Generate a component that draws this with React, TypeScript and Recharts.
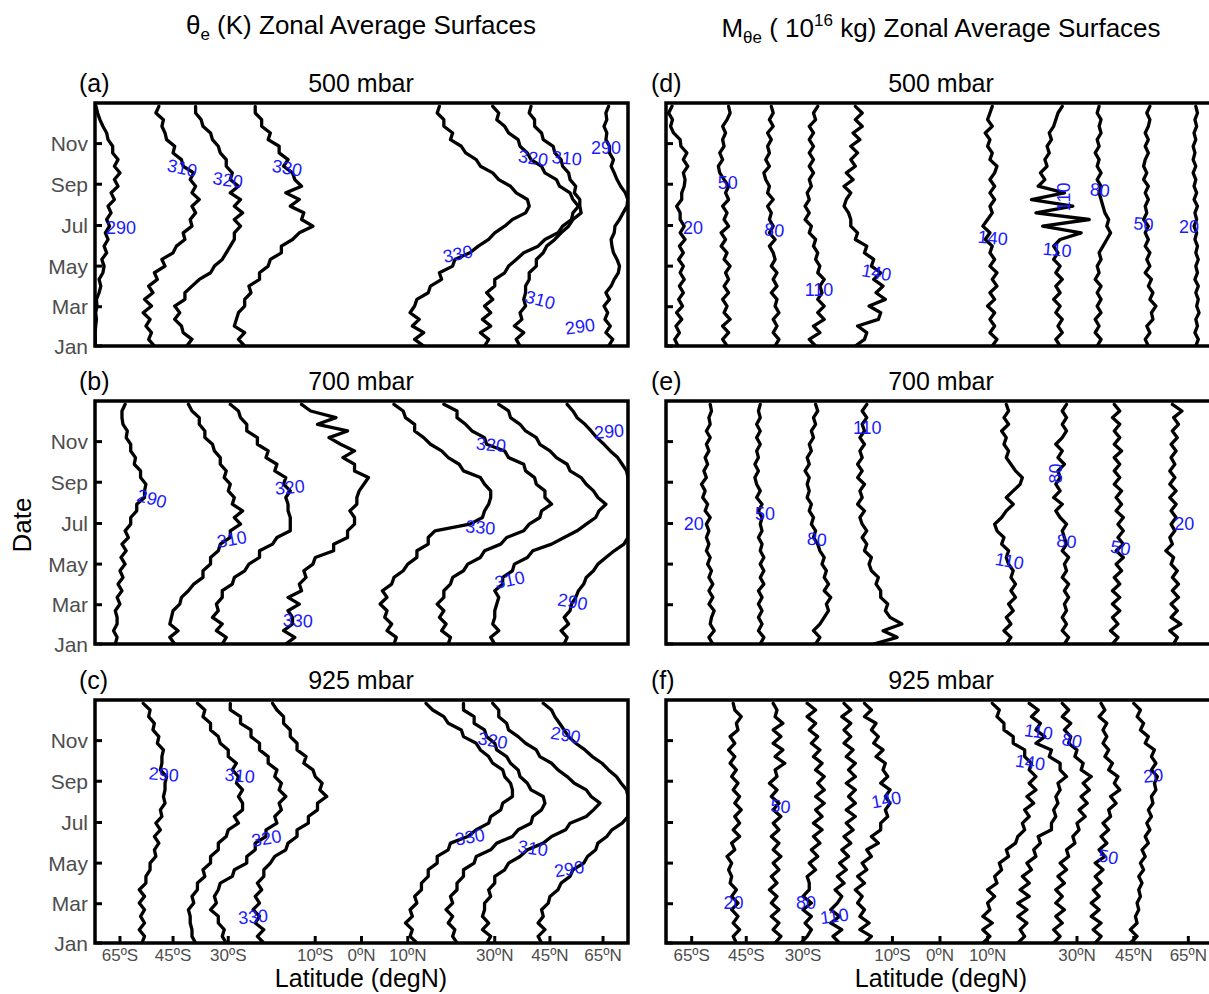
import React from "react";
import { ScatterChart, Scatter, XAxis, YAxis, ReferenceArea } from "recharts";

const FONT = "'Liberation Sans', Arial, Helvetica, sans-serif";

// day of year sampled every 10 days
const days = [0, 10, 20, 30, 40, 50, 60, 70, 80, 90, 100, 110, 120, 130, 140, 150, 160, 170, 180, 190, 200, 210, 220, 230, 240, 250, 260, 270, 280, 290, 300, 310, 320, 330, 340, 350, 360];

const monthTicks = [0, 59, 120, 181, 243, 304];
const monthNames = ["Jan", "Mar", "May", "Jul", "Sep", "Nov"];
const latTicks = [-65, -45, -30, -10, 0, 10, 30, 45, 65];
const latTickLabels = ["65ºS", "45ºS", "30ºS", "10ºS", "0ºN", "10ºN", "30ºN", "45ºN", "65ºN"];

// contour latitudes (degN), one value per entry of `days`
// (a) theta_e 500 mbar
const A_290S = [-88, -87, -88, -86, -84, -86, -83, -84, -80, -78, -80, -76, -75, -77, -73, -75, -72, -74, -71, -73, -70, -72, -68, -70, -66, -68, -65, -68, -66, -69, -69, -72, -73, -76, -79, -82, -85];
const A_310S = [-51, -53, -52, -54, -52.5, -55, -52, -54.5, -51.5, -53, -50, -51, -47.5, -48.5, -45, -44, -41.5, -42, -39.5, -40, -38.5, -39.5, -37.5, -39.5, -38.5, -40, -39, -42, -42.5, -45, -44.5, -47, -47.5, -48.5, -48, -50.5, -49.5];
const A_320S = [-41, -39.5, -42, -42.5, -44.5, -43, -44.5, -41.5, -41.5, -39.5, -37.5, -34.5, -33.5, -31.5, -30.5, -29.5, -28.5, -28.5, -27, -28.5, -26.5, -28.5, -27, -29.5, -27.5, -29.5, -29, -30.5, -30.5, -32, -32.5, -34, -34.5, -36.5, -37, -38.5, -38.5];
const A_330S = [-26, -27.5, -26, -28.5, -28, -27.5, -26, -26, -24.5, -25, -22.5, -22.5, -20.5, -20, -17.5, -17.5, -15, -13.5, -10.5, -13, -12.5, -15.5, -13.5, -16.5, -13, -14.5, -15, -17, -16, -18, -18, -20.5, -20, -22, -22, -23.5, -23.5];
const A_330N = [13.5, 11.5, 13.5, 11, 12.5, 10.5, 11.5, 12, 14.5, 15, 17.5, 17, 20, 20.5, 24, 26, 28.5, 30, 32.5, 34.5, 38, 39, 38.5, 35.5, 34, 31, 29.5, 26.5, 25.5, 23, 22, 19.5, 20, 18, 18, 16.5, 17];
const A_320N = [27.5, 28.5, 26.5, 29, 27, 29, 27.5, 29.5, 28, 30, 30, 32.5, 33.5, 35.5, 37.5, 41.5, 43.5, 47.5, 49, 52, 52.5, 54.5, 52.5, 51.5, 48, 47, 43.5, 42.5, 39.5, 38.5, 36.5, 36, 33.5, 32.5, 30.5, 31, 29.5];
const A_310N = [36.5, 35.5, 37.5, 35, 37, 36.5, 38, 37.5, 38, 38, 39, 39, 41, 41, 43, 44, 46.5, 48.5, 51, 52.5, 55.5, 55, 55, 53, 53.5, 51.5, 51, 49, 48.5, 46.5, 46, 43, 42.5, 40.5, 40.5, 39, 39.5];
const A_290N = [68, 70.5, 66.5, 69, 66, 67.5, 65.5, 68.5, 66.5, 69.5, 71.5, 74.5, 75.5, 73.5, 71, 70, 69.5, 71.5, 72, 75.5, 79, 85, 88, 82, 76.5, 73.5, 71.5, 69.5, 71, 68.5, 68.5, 66.5, 67, 65.5, 67, 66.5, 68];

// (b) theta_e 700 mbar
const B_290S = [-67.5, -66.5, -68.5, -66.5, -66.5, -67.5, -65, -66.5, -64, -66, -63.5, -65, -62.5, -64.5, -62, -64, -61, -62.5, -60, -60, -57.5, -57.5, -54.5, -54.5, -54, -56, -56, -58.5, -58, -60, -60, -62, -61.5, -63.5, -64, -64, -62.5];
const B_310S = [-44.5, -46, -43.5, -46, -45.5, -45, -43, -42.5, -40.5, -39, -36.5, -36.5, -34.5, -34.5, -32.5, -32, -29.5, -29.5, -27, -28.5, -26.5, -29, -28.5, -30, -29.5, -31, -30.5, -32, -32, -33.5, -34, -36, -36, -37.5, -37.5, -39.5, -40.5];
const B_320S = [-31.5, -30.5, -33, -31.5, -34, -32.5, -33, -31.5, -31.5, -29, -28.5, -26, -25, -22.5, -22.5, -19.5, -18.5, -15.5, -15.5, -15.5, -16, -16, -16.5, -15.5, -17, -16.5, -19, -18.5, -21, -20.5, -23, -23, -25.5, -25.5, -27, -27.5, -29.5];
const B_330S = [-16.5, -14.5, -17, -15, -15, -16, -13.5, -16, -13, -13.5, -12, -12.5, -10.5, -10, -6, -6, -3, -3, -1.5, -1.5, -2.5, -1, -1, -0.5, 0.5, 1.5, -1.5, -1.5, -4, -1.5, -4.5, -7, -3, -9.5, -5.5, -11, -13];
const B_330N = [7, 7.5, 5.5, 6.5, 5, 5.5, 4, 5.5, 4.5, 6.5, 7, 9, 10, 12, 12, 14.5, 14.5, 16, 24, 27, 27.5, 28.5, 29, 29, 27.5, 26.5, 22.5, 21.5, 19, 17.5, 15, 13.5, 11.5, 11.5, 9.5, 9, 7];
const B_320N = [19, 19.5, 17.5, 18.5, 17, 18, 16.5, 18, 18, 19.5, 20, 22.5, 23.5, 26.5, 27.5, 31.5, 33, 37.5, 39, 42, 42.5, 45.5, 43.5, 43.5, 41, 40.5, 38, 37.5, 33.5, 32.5, 28, 27.5, 24.5, 23, 21, 21, 18];
const B_310N = [30, 29, 31, 29.5, 30, 30, 30.5, 31, 30, 32, 32, 34.5, 35, 38.5, 40, 45.5, 49.5, 54, 57.5, 61.5, 63, 66.5, 62.5, 60.5, 57.5, 55.5, 51.5, 50.5, 47, 45, 42, 41, 38, 36.5, 34, 33.5, 31];
const B_290N = [49.5, 50.5, 48.5, 51, 49.5, 51.5, 52, 53.5, 54.5, 56.5, 57.5, 60.5, 62.5, 66.5, 71.5, 80, 90, 90, 90, 90, 90, 90, 90, 90, 90, 90, 84, 78, 74, 69, 65.5, 62, 59.5, 57, 54, 52.5, 50.5];

// (c) theta_e 925 mbar
const C_290S = [-55.5, -54.5, -56.5, -54.5, -56, -54.5, -56.5, -54.5, -56.5, -54, -54, -52.5, -52.5, -50.5, -51, -49.5, -51, -49, -50.5, -48.5, -49, -47.5, -48, -47.5, -47.5, -47, -49, -48.5, -48.5, -48, -50, -49.5, -51.5, -51, -53, -52.5, -55];
const C_310S = [-38.5, -39.5, -39.5, -40, -40, -40.5, -39, -39.5, -38, -38, -36, -36.5, -34.5, -34.5, -32.5, -32.5, -30.5, -30, -27.5, -28.5, -26.5, -26.5, -27.5, -26.5, -28, -27.5, -29, -28, -30, -30, -32, -32.5, -34.5, -34.5, -36.5, -36, -38];
const C_320S = [-30.5, -31.5, -31, -32.5, -32.5, -34.5, -33, -33.5, -32.5, -32, -29, -28.5, -25.5, -25.5, -23.5, -23.5, -21, -21, -18.5, -19, -17.5, -18, -16.5, -18, -17.5, -19, -18.5, -20.5, -20.5, -22.5, -22.5, -24.5, -24.5, -27, -27, -29.5, -29.5];
const C_330S = [-21.5, -23, -21.5, -23.5, -22.5, -24, -22.5, -23.5, -22, -23, -21.5, -21.5, -20, -19, -16.5, -16, -14, -14, -11.5, -11.5, -9.5, -9.5, -7.5, -9, -8.5, -10, -10.5, -12.5, -12, -14, -14, -15.5, -15.5, -17, -17, -18.5, -19.5];
const C_330N = [12, 10.5, 11, 9.5, 11, 10.5, 12, 11.5, 13, 13, 14.5, 14.5, 16.5, 16.5, 19, 19.5, 23.5, 25.5, 28.5, 29, 31.5, 32, 34.5, 34.5, 34, 32.5, 32, 29.5, 28.5, 26.5, 25.5, 22.5, 22, 19, 18, 15.5, 14];
const C_320N = [21, 20, 20.5, 19, 20, 18.5, 20, 19.5, 21, 21, 22.5, 22.5, 25, 25.5, 29, 30.5, 34.5, 36, 39.5, 40, 42.5, 43.5, 43, 39.5, 38.5, 36.5, 36, 34, 33, 30.5, 30, 28, 27.5, 25, 25, 22.5, 22.5];
const C_310N = [28, 29, 27, 28.5, 27, 27.5, 27.5, 29, 28.5, 30, 30, 32.5, 33.5, 36.5, 38.5, 43, 45.5, 50, 51.5, 57.5, 60.5, 63.5, 59.5, 57.5, 53, 50.5, 47.5, 45.5, 42, 41, 38, 36, 33.5, 33, 31, 31, 29.5];
const C_290N = [42.5, 41.5, 43.5, 41.5, 43, 42.5, 44.5, 45, 47.5, 48.5, 51.5, 52.5, 56.5, 58, 61.5, 62.5, 67, 70, 78, 90, 90, 90, 90, 84, 77, 73, 68, 64.5, 60, 57, 53.5, 51, 49.5, 48, 46.5, 45.5, 43];

// (d) M_theta_e 500 mbar
const D_20S = [-73, -75.5, -72, -74.5, -70.5, -74, -70, -72.5, -69.5, -72, -69, -71.5, -69.5, -72.5, -69.5, -72, -68.5, -71.5, -69, -71.5, -71.5, -74, -70.5, -70.5, -69, -68.5, -69.5, -67, -69.5, -67.5, -71, -71.5, -76.5, -79.5, -77.5, -82, -78];
const D_50S = [-51, -52.5, -50.5, -52.5, -50, -52, -51, -52.5, -50.5, -52, -50.5, -51.5, -50, -52, -51, -53, -51.5, -53, -50.5, -52, -51, -52.5, -50.5, -51.5, -50.5, -52, -53.5, -54, -52.5, -53.5, -52, -52.5, -51.5, -52.5, -51, -50, -50.5];
const D_80S = [-37, -36, -37.5, -36.5, -37.5, -36, -37, -36.5, -38, -36.5, -37.5, -36.5, -38, -37, -37.5, -38.5, -37, -38.5, -37.5, -38.5, -38, -39, -37.5, -39, -38.5, -39.5, -40, -38.5, -39.5, -38.5, -39, -38, -39, -37.5, -38.5, -37.5, -38];
const D_110S = [-27, -28.5, -26, -27.5, -25, -26.5, -25, -26.5, -25.5, -26, -25, -26.5, -26, -27, -26.5, -27.5, -27, -28.5, -28, -29.5, -28.5, -29.5, -28.5, -29, -28, -28.5, -27.5, -28.5, -27.5, -28.5, -27.5, -28.5, -27.5, -28.5, -27, -27.5, -26.5];
const D_140S = [-18, -16, -15.5, -17.5, -13, -12.5, -15, -11.5, -13.5, -12, -14, -12.5, -14.5, -14, -16, -15.5, -18, -17.5, -19, -19, -19.5, -20.5, -20, -19, -20.5, -18.5, -20, -18, -19, -17.5, -19, -17, -18.5, -16.5, -18, -16.5, -18];
const D_140N = [11, 12, 10.5, 11.5, 10.5, 11.5, 10, 11.5, 10.5, 12, 11, 12, 10.5, 11.5, 10.5, 11, 9.5, 10.5, 9, 10, 11, 10.5, 11.5, 10.5, 11.5, 10.5, 11.5, 12, 10.5, 11, 10, 10.5, 9.5, 11, 10, 10.5, 11];
const D_110N = [26, 25, 26.5, 25.5, 26.5, 25, 26, 24.5, 26, 25, 26.5, 25, 26, 24.5, 25.5, 24.5, 26, 31, 22, 33, 20.5, 29, 19.5, 27, 21, 22.5, 21.5, 23, 22.5, 23.5, 23, 24, 23.5, 24.5, 25, 25.5, 26.5];
const D_80N = [35, 36, 34.5, 35.5, 34.5, 36, 35, 36, 35, 36, 34.5, 35.5, 35, 36, 35.5, 36.5, 37.5, 38.5, 37.5, 38, 37, 36.5, 36, 35.5, 36, 35, 36, 35, 35.5, 34.5, 35.5, 35, 36, 35.5, 36, 35, 35.5];
const D_50N = [49.5, 48.5, 50, 49, 51, 50.5, 52, 50, 51, 49.5, 50.5, 48.5, 50, 49, 50, 48.5, 49.5, 48.5, 49.5, 48, 49, 48.5, 49.5, 48.5, 49.5, 48, 49, 48, 48.5, 49.5, 48.5, 49.5, 48.5, 49.5, 50, 49, 50];
const D_20N = [69, 70.5, 68.5, 70, 69, 71, 69.5, 70.5, 69, 70.5, 68.5, 70, 69, 70.5, 69, 70, 68.5, 69.5, 68, 69.5, 68.5, 70, 68, 69.5, 68, 69, 67.5, 69, 67.5, 68.5, 67.5, 69, 68, 69.5, 68.5, 70, 69];

// (e) M_theta_e 700 mbar
const E_20S = [-56, -57.5, -55.5, -57, -56.5, -55.5, -57.5, -56, -57.5, -56, -57.5, -56.5, -58, -57, -58.5, -57.5, -58.5, -57.5, -58.5, -57, -59, -58, -60, -59, -60.5, -58.5, -59.5, -58, -59, -57.5, -58.5, -57, -58.5, -57, -57.5, -56.5, -57];
const E_50S = [-41, -40, -41.5, -40.5, -41.5, -40.5, -41.5, -40.5, -41.5, -40, -41, -40, -41, -40, -41, -40.5, -41.5, -40.5, -41, -40.5, -41.5, -40.5, -42, -41, -42, -42.5, -41.5, -42.5, -41.5, -42, -41, -42, -41, -42, -41, -41.5, -41];
const E_80S = [-27, -26, -27.5, -26, -25, -24, -24.5, -23.5, -25, -24, -25, -24.5, -25.5, -25, -26, -26.5, -27.5, -27, -28, -27.5, -28.5, -28, -29, -28.5, -29, -28.5, -29.5, -28.5, -29, -28, -28.5, -27.5, -28, -27, -27.5, -26.5, -27];
const E_110S = [-14, -9, -12, -8, -10.5, -11.5, -11, -12.5, -12.5, -13.5, -13, -14.5, -15, -14.5, -16, -15.5, -16.5, -15.5, -16.5, -17, -16, -17.5, -16.5, -17, -16, -17.5, -16.5, -17.5, -16.5, -17, -16, -17, -16, -16.5, -15.5, -16.5, -15.5];
const E_110N = [14, 15, 13.5, 15, 14, 15.5, 14.5, 16, 15, 16, 15, 15.5, 14.5, 14, 14.5, 13, 13.5, 12, 11.5, 13, 14, 15.5, 14, 15.5, 17, 17.5, 16, 15, 14, 14.5, 13.5, 14, 13, 14.5, 13.5, 14.5, 14];
const E_80N = [27, 28, 26.5, 27.5, 26.5, 27.5, 27, 28, 27, 28, 26.5, 27.5, 27, 28, 26.5, 27.5, 27, 26.5, 27.5, 26, 25, 26.5, 24.5, 26, 25, 26, 25.5, 27, 25.5, 26.5, 25, 26.5, 27.5, 26.5, 27.5, 26.5, 27.5];
const E_50N = [39, 40.5, 38.5, 40.5, 39, 41, 39, 41, 39, 41, 39.5, 41.5, 40, 42, 40, 42, 40.5, 42, 40.5, 42, 40, 41.5, 40, 41.5, 39.5, 41, 39.5, 41, 39.5, 41.5, 39.5, 41, 39.5, 41, 39, 41, 39.5];
const E_20N = [58.5, 60, 57, 61.5, 57.5, 60, 57.5, 60.5, 58, 60.5, 58, 60, 57.5, 58.5, 55.5, 58, 57, 59, 57.5, 59.5, 57.5, 59.5, 57, 59.5, 57, 59, 57, 59, 57.5, 59.5, 57.5, 60, 58, 60.5, 58.5, 62, 58];

// (f) M_theta_e 925 mbar
const F_20S = [-48, -49, -47, -49, -47.5, -49.5, -47.5, -49.5, -48, -50, -49.5, -50.5, -49.5, -51, -48.5, -49.5, -47, -49, -47, -48.5, -46.5, -48.5, -47, -49, -47.5, -49.5, -48, -50, -48.5, -50.5, -48.5, -50, -47.5, -48, -46.5, -48.5, -49];
const F_50S = [-37, -35.5, -37.5, -36, -38, -36, -38, -36.5, -38.5, -36.5, -38, -36, -37.5, -35.5, -37.5, -36, -38, -36, -37.5, -35.5, -37.5, -36, -38, -36.5, -38.5, -36.5, -37, -34.5, -37, -35, -37.5, -35.5, -37.5, -35, -37, -36.5, -37.5];
const F_80S = [-30.5, -29, -28, -29.5, -28, -30, -28, -30, -28.5, -28.5, -29, -27, -28.5, -26.5, -28, -26, -27.5, -25.5, -27.5, -25.5, -27, -25, -27, -25, -26.5, -25, -27, -25.5, -27.5, -26, -28, -26.5, -28.5, -27, -29, -27, -29];
const F_110S = [-21.5, -23, -21, -23.5, -21.5, -23.5, -22, -21, -22.5, -20.5, -22, -20, -21.5, -19.5, -21, -19, -20.5, -18.5, -20, -18, -20, -18, -19.5, -18, -20, -18, -19.5, -18, -20, -18.5, -20.5, -19, -20.5, -19, -21, -19, -20.5];
const F_140S = [-16, -14.5, -17, -15, -17, -16, -17.5, -16.5, -18, -16, -17.5, -15.5, -16.5, -14.5, -15.5, -13, -14.5, -12.5, -12.5, -11, -11.5, -10.5, -11.5, -10.5, -12.5, -11, -12, -11.5, -13.5, -12, -14, -13, -14.5, -13.5, -16, -14.5, -16];
const F_140N = [9, 10.5, 9, 11, 9, 10.5, 10, 11.5, 10, 12, 11.5, 13, 12.5, 14.5, 14, 16, 16.5, 18, 17.5, 19, 18, 20, 18.5, 20.5, 19, 20.5, 19, 19.5, 18, 18, 15.5, 15.5, 13.5, 13.5, 12, 12.5, 11];
const F_110N = [16.5, 18, 17, 18.5, 16.5, 18.5, 16.5, 19, 17, 19, 17.5, 19.5, 18.5, 20.5, 20, 21.5, 21, 24, 24, 25, 24.5, 25.5, 25, 26, 25.5, 27.5, 26, 26, 23.5, 24, 20.5, 22.5, 20.5, 21.5, 19.5, 21, 19];
const F_80N = [24.5, 26, 24.5, 26.5, 25, 27, 25, 26.5, 25, 27, 25.5, 27.5, 26, 28, 27.5, 29.5, 29, 30.5, 30, 32, 30.5, 32.5, 31, 33, 31.5, 33.5, 31, 31.5, 29.5, 30, 28, 28.5, 27, 28.5, 26.5, 28, 26.5];
const F_50N = [34.5, 36, 34, 36, 33.5, 35.5, 33.5, 35.5, 34, 36, 34.5, 36.5, 34.5, 37, 35.5, 37.5, 36, 38, 36.5, 38.5, 38, 40, 38.5, 41, 39.5, 40.5, 38, 39, 37, 38, 36.5, 37.5, 36.5, 37.5, 35.5, 37, 36];
const F_20N = [44, 46, 44, 46, 45.5, 46.5, 46, 47, 46.5, 47.5, 46.5, 48, 47, 48.5, 47.5, 49.5, 48.5, 50, 49, 50.5, 49.5, 51, 50.5, 52, 51.5, 52.5, 50.5, 52, 50.5, 51.5, 48.5, 49.5, 47, 48, 46, 47, 45];

// contour labels: latitude, day, text, rotation
const A_LABELS = [
  { lat: -64.5, day: 177, text: "290", rot: 0 },
  { lat: -42.3, day: 267, text: "310", rot: 12 },
  { lat: -30.1, day: 249, text: "320", rot: 8 },
  { lat: -16.2, day: 267, text: "330", rot: 10 },
  { lat: 40.1, day: 282, text: "320", rot: 8 },
  { lat: 50.4, day: 282, text: "310", rot: 5 },
  { lat: 66.6, day: 297, text: "290", rot: 0 },
  { lat: 21.2, day: 138, text: "330", rot: -12 },
  { lat: 42.1, day: 69, text: "310", rot: 15 },
  { lat: 55.1, day: 29, text: "290", rot: -8 },
];
const B_LABELS = [
  { lat: -51.9, day: 218, text: "290", rot: 15 },
  { lat: -29.1, day: 157, text: "310", rot: -10 },
  { lat: -15.6, day: 235, text: "320", rot: -5 },
  { lat: -13.8, day: 35, text: "330", rot: 3 },
  { lat: 29.1, day: 299, text: "320", rot: 5 },
  { lat: 26.5, day: 175, text: "330", rot: 5 },
  { lat: 33.8, day: 96, text: "310", rot: -12 },
  { lat: 68.3, day: 319, text: "290", rot: -5 },
  { lat: 52.4, day: 63, text: "290", rot: 10 },
];
const C_LABELS = [
  { lat: -47.9, day: 253, text: "290", rot: 5 },
  { lat: -27.2, day: 251, text: "310", rot: 5 },
  { lat: -20.9, day: 157, text: "320", rot: -10 },
  { lat: -24, day: 39, text: "330", rot: -5 },
  { lat: 29.5, day: 304, text: "320", rot: 10 },
  { lat: 50, day: 312, text: "290", rot: 10 },
  { lat: 24, day: 159, text: "330", rot: -10 },
  { lat: 40, day: 142, text: "310", rot: 8 },
  { lat: 51.2, day: 111, text: "290", rot: -10 },
];
const D_LABELS = [
  { lat: -64.4, day: 177, text: "20", rot: 0 },
  { lat: -50.8, day: 245, text: "50", rot: 0 },
  { lat: -37.2, day: 174, text: "80", rot: 5 },
  { lat: -26.2, day: 84, text: "110", rot: 0 },
  { lat: -13.4, day: 110, text: "140", rot: 10 },
  { lat: 11.1, day: 162, text: "140", rot: 5 },
  { lat: 25.3, day: 144, text: "110", rot: 5 },
  { lat: 26.9, day: 224, text: "110", rot: -90 },
  { lat: 35.7, day: 234, text: "80", rot: 5 },
  { lat: 48, day: 183, text: "50", rot: 5 },
  { lat: 65.4, day: 179, text: "20", rot: 0 },
];
const E_LABELS = [
  { lat: -64, day: 180, text: "20", rot: 0 },
  { lat: -39.7, day: 195, text: "50", rot: 0 },
  { lat: -26.7, day: 157, text: "80", rot: 5 },
  { lat: -15.4, day: 324, text: "110", rot: 0 },
  { lat: 14.7, day: 124, text: "110", rot: 10 },
  { lat: 25.1, day: 256, text: "80", rot: -90 },
  { lat: 27.5, day: 154, text: "80", rot: 5 },
  { lat: 41.2, day: 144, text: "50", rot: 10 },
  { lat: 63.1, day: 180, text: "20", rot: 0 },
];
const F_LABELS = [
  { lat: -48.9, day: 60, text: "20", rot: 0 },
  { lat: -35.6, day: 205, text: "50", rot: 5 },
  { lat: -29.3, day: 60, text: "80", rot: 0 },
  { lat: -22.7, day: 40, text: "110", rot: -8 },
  { lat: -11.3, day: 215, text: "140", rot: -10 },
  { lat: 21.1, day: 317, text: "110", rot: 8 },
  { lat: 19.2, day: 271, text: "140", rot: 8 },
  { lat: 28.8, day: 304, text: "80", rot: 10 },
  { lat: 37.9, day: 129, text: "50", rot: 10 },
  { lat: 51.1, day: 251, text: "20", rot: -5 },
];

const PANELS = [
  { tag: "(a)", level: "500 mbar", col: 0, row: 0, lines: [A_290S, A_310S, A_320S, A_330S, A_330N, A_320N, A_310N, A_290N], labels: A_LABELS },
  { tag: "(b)", level: "700 mbar", col: 0, row: 1, lines: [B_290S, B_310S, B_320S, B_330S, B_330N, B_320N, B_310N, B_290N], labels: B_LABELS },
  { tag: "(c)", level: "925 mbar", col: 0, row: 2, lines: [C_290S, C_310S, C_320S, C_330S, C_330N, C_320N, C_310N, C_290N], labels: C_LABELS },
  { tag: "(d)", level: "500 mbar", col: 1, row: 0, lines: [D_20S, D_50S, D_80S, D_110S, D_140S, D_140N, D_110N, D_80N, D_50N, D_20N], labels: D_LABELS },
  { tag: "(e)", level: "700 mbar", col: 1, row: 1, lines: [E_20S, E_50S, E_80S, E_110S, E_110N, E_80N, E_50N, E_20N], labels: E_LABELS },
  { tag: "(f)", level: "925 mbar", col: 1, row: 2, lines: [F_20S, F_50S, F_80S, F_110S, F_140S, F_140N, F_110N, F_80N, F_50N, F_20N], labels: F_LABELS },
];

// layout
const PLOT_H = 243;
const ROW_TOP = [103, 401, 700];
const COLS = [
  { x: 95, w: 533, mid: 361, tagX: 79 },
  { x: 666, w: 548, mid: 941, tagX: 651 },
];
const Y_W = 50;
const X_H = 34;
const PAD = 4;
const TICK_GRAY = "#4d4d4d";

const toX = (lat: number) => Math.sin((lat * Math.PI) / 180);
const xTickValues = latTicks.map(toX);

const buildLine = (lats: number[]) => days.map((d, i) => ({ x: toX(lats[i]), y: d })).filter((p) => !Number.isNaN(p.x));

const renderXTick = (props: any) => {
  const { x, y, index } = props;
  return (
    <g>
      <line x1={x} y1={y} x2={x} y2={y - 7} stroke="#000" strokeWidth={3} />
      <text x={x} y={y + 12} textAnchor="middle" dominantBaseline="central" fontSize={17} fill={TICK_GRAY} fontFamily={FONT}>
        {latTickLabels[index]}
      </text>
    </g>
  );
};

const makeYTick = (withLabel: boolean) => (props: any) => {
  const { x, y, index } = props;
  return (
    <g>
      <line x1={x} y1={y} x2={x + 7} y2={y} stroke="#000" strokeWidth={3} />
      {withLabel && (
        <text x={x - 7} y={y} textAnchor="end" dominantBaseline="central" fontSize={21} fill={TICK_GRAY} fontFamily={FONT}>
          {monthNames[index]}
        </text>
      )}
    </g>
  );
};

const renderLabel = (props: any) => {
  const { cx, cy } = props;
  const p = props.payload ?? props;
  if (cx == null || cy == null) return <g />;
  return (
    <text
      x={cx}
      y={cy}
      textAnchor="middle"
      dominantBaseline="central"
      fontSize={18}
      fill="#1a1aff"
      fontFamily={FONT}
      transform={`rotate(${p.rot} ${cx} ${cy})`}
    >
      {p.text}
    </text>
  );
};

const noDot = () => <g />;

function Panel({ panel }: { panel: (typeof PANELS)[number] }) {
  const col = COLS[panel.col];
  const top = ROW_TOP[panel.row];
  const showX = panel.row === 2;
  const labelData = panel.labels.map((l) => ({ x: toX(l.lat), y: l.day, text: l.text, rot: l.rot }));

  return (
    <>
      <div style={{ position: "absolute", left: col.tagX, top: top - 35, fontSize: 25, lineHeight: "30px" }}>{panel.tag}</div>
      <div style={{ position: "absolute", left: col.mid - 100, width: 200, top: top - 35, fontSize: 25, lineHeight: "30px", textAlign: "center" }}>
        {panel.level}
      </div>
      <div style={{ position: "absolute", left: col.x - Y_W, top: top - PAD }}>
        <ScatterChart width={Y_W + col.w + PAD} height={PAD + PLOT_H + X_H} margin={{ top: PAD, right: PAD, bottom: 0, left: 0 }}>
          <XAxis
            type="number"
            dataKey="x"
            domain={[-1, 1]}
            allowDataOverflow
            ticks={xTickValues}
            interval={0}
            tickSize={0}
            tickMargin={0}
            axisLine={false}
            tickLine={false}
            height={X_H}
            tick={showX ? renderXTick : false}
          />
          <YAxis
            type="number"
            dataKey="y"
            domain={[0, 365]}
            allowDataOverflow
            ticks={monthTicks}
            interval={0}
            tickSize={0}
            tickMargin={0}
            axisLine={false}
            tickLine={false}
            width={Y_W}
            tick={makeYTick(panel.col === 0)}
          />
          {panel.lines.map((lats, i) => (
            <Scatter
              key={i}
              data={buildLine(lats)}
              line={{ stroke: "#000", strokeWidth: 3.3, strokeLinejoin: "round", strokeLinecap: "round" }}
              shape={noDot}
              isAnimationActive={false}
            />
          ))}
          <ReferenceArea x1={-1} x2={1} y1={0} y2={365} fill="none" fillOpacity={0} stroke="#000" strokeWidth={3.5} />
          <Scatter data={labelData} shape={renderLabel} isAnimationActive={false} />
        </ScatterChart>
      </div>
    </>
  );
}

const subStyle: React.CSSProperties = { fontSize: 17, position: "relative", top: 6 };
const supStyle: React.CSSProperties = { fontSize: 17, position: "relative", top: -11 };

export default function App() {
  return (
    <div
      style={{
        position: "absolute",
        left: 0,
        top: 0,
        width: 1209,
        height: 994,
        overflow: "hidden",
        background: "#fff",
        fontFamily: FONT,
        color: "#000",
      }}
    >
      <div style={{ position: "absolute", left: 0, width: 722, top: 8, textAlign: "center", fontSize: 26, lineHeight: "34px" }}>
        θ<span style={subStyle}>e</span> (K) Zonal Average Surfaces
      </div>
      <div style={{ position: "absolute", left: 641, width: 600, top: 11, textAlign: "center", fontSize: 26, lineHeight: "34px" }}>
        M<span style={subStyle}>θe</span> ( 10<span style={supStyle}>16</span> kg) Zonal Average Surfaces
      </div>

      {PANELS.map((p) => (
        <Panel key={p.tag} panel={p} />
      ))}

      <div
        style={{
          position: "absolute",
          left: 22 - 60,
          width: 120,
          top: 525 - 17,
          fontSize: 26,
          lineHeight: "34px",
          textAlign: "center",
          transform: "rotate(-90deg)",
        }}
      >
        Date
      </div>
      <div style={{ position: "absolute", left: 361 - 150, width: 300, top: 966, fontSize: 25, lineHeight: "24px", textAlign: "center" }}>
        Latitude (degN)
      </div>
      <div style={{ position: "absolute", left: 941 - 150, width: 300, top: 966, fontSize: 25, lineHeight: "24px", textAlign: "center" }}>
        Latitude (degN)
      </div>
    </div>
  );
}
